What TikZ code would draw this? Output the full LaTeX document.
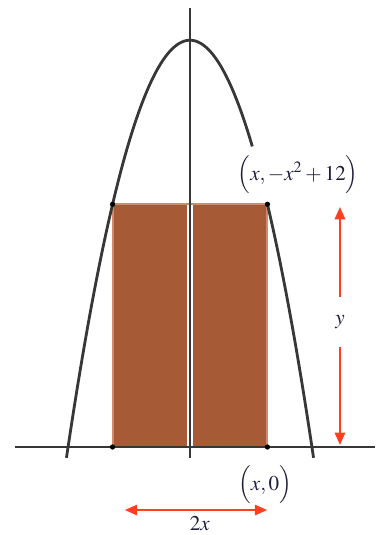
\documentclass[tikz,border=0pt]{standalone}
\usepackage{mathptmx}
\usetikzlibrary{arrows.meta}
\definecolor{curvegray}{RGB}{55,55,55}
\definecolor{rectbrown}{RGB}{166,90,54}
\definecolor{rectedge}{RGB}{205,140,110}
\definecolor{arrowred}{RGB}{255,64,32}
\definecolor{textnavy}{RGB}{30,30,60}

\begin{document}
\begin{tikzpicture}[x=0.704cm,y=0.678cm,>={Triangle[length=7pt,width=6pt]},
    every node/.style={font=\large,text=textnavy},
    redarrow/.style={arrowred,thick}]
    \useasboundingbox (-5.398,-2.596) rectangle (5.256,13.186);
    % inscribed rectangle
    \fill[rectbrown,draw=rectedge,line width=1.2pt] (-2.2,0) rectangle (2.2,7.16);
    \fill[white] (-0.09,0.03) rectangle (0.09,7.13);
    % axes
    \draw[curvegray,line width=0.8pt] (-4.97,0) -- (5.26,0);
    \draw[curvegray,line width=0.8pt] (0,-0.33) -- (0,12.95);
    % parabola, broken under the label
    \draw[curvegray,line width=1.6pt,domain=-3.51:1.77,samples=80] plot (\x,{12-\x*\x});
    \draw[curvegray,line width=1.6pt,domain=2.2:3.51,samples=20] plot (\x,{12-\x*\x});
    \coordinate (bl) at (-2.2,0);
    \coordinate (br) at (2.2,0);
    \coordinate (tl) at (-2.2,7.16);
    \coordinate (tr) at (2.2,7.16);
    \foreach \p in {bl,br,tl,tr}{\fill (\p) circle (1.5pt);}
    \node (ptop) at (3.07,8.02) {$\Bigl(x, -x^2+12\Bigr)$};
    \node (pbase) at (2.13,-1.12) {$\Bigl(x,0\Bigr)$};
    % height y
    \coordinate (ytop) at (4.26,7.08);
    \coordinate (ybot) at (4.26,0.06);
    \node[minimum height=1cm] (ylab) at (4.26,3.69) {$y$};
    \draw[->,redarrow] (ylab) -- (ytop);
    \draw[->,redarrow] (ylab) -- (ybot);
    % width 2x
    \coordinate (wl) at (-1.85,-1.86);
    \coordinate (wr) at (2.19,-1.86);
    \draw[<->,redarrow] (wl) -- (wr);
    \node[below] (wlab) at (0.28,-1.86) {$2x$};
\end{tikzpicture}
\end{document}
